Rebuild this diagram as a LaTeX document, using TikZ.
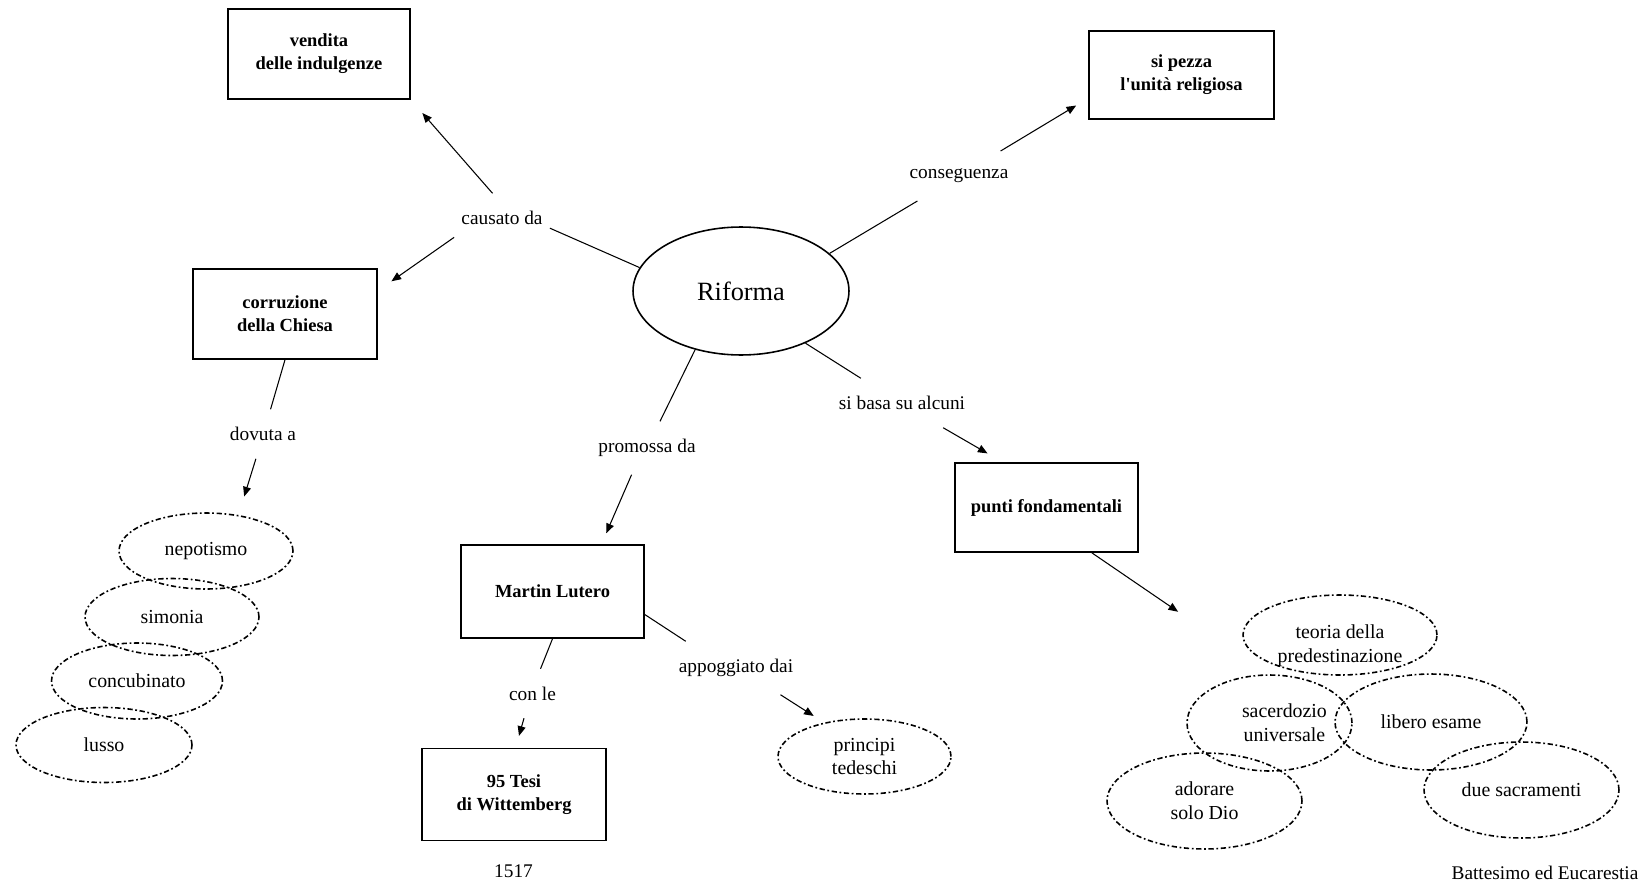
\documentclass[tikz,border=0pt]{standalone}
\usepackage{fontspec}
\setmainfont{Liberation Serif}
\usetikzlibrary{shapes.geometric,arrows.meta}

\begin{document}
\begin{tikzpicture}[x=0.02cm,y=-0.02cm,
  box/.style={draw,line width=0.9pt,align=center,inner sep=0pt,
    font=\fontsize{10.5}{13}\selectfont\bfseries},
  bubble/.style={ellipse,draw,line width=0.9pt,align=center,inner sep=0pt,
    dash pattern=on 3pt off 1.5pt on 1pt off 1.5pt,
    minimum width=3.9cm,minimum height=1.92cm,
    font=\fontsize{11.3}{13.5}\selectfont},
  word/.style={inner xsep=4pt,inner ysep=10pt,align=center,
    font=\fontsize{11}{13}\selectfont},
  link/.style={line width=0.6pt},
  arrow/.style={line width=0.6pt,-{Triangle[length=5.5pt,width=4.5pt]}}]

\useasboundingbox (0,0) rectangle (1646,882);

\node[ellipse,draw,line width=0.9pt,minimum width=4.32cm,minimum height=2.56cm,
  inner sep=0pt,font=\fontsize{15}{18}\selectfont] (riforma) at (741,291) {Riforma};

\node[box,minimum width=3.64cm,minimum height=1.8cm] (vendita) at (319,54) {vendita\\delle indulgenze};
\node[box,minimum width=3.68cm,minimum height=1.8cm] (corruzione) at (285,314) {corruzione\\della Chiesa};
\node[box,minimum width=3.7cm,minimum height=1.76cm] (sipezza) at (1181.5,75) {si pezza\\l\textquotesingle unità religiosa};
\node[box,minimum width=3.66cm,minimum height=1.86cm] (lutero) at (552.5,591.5) {Martin Lutero};
\node[box,minimum width=3.68cm,minimum height=1.84cm] (tesi) at (514,794.5) {95 Tesi\\di Wittemberg};
\node[box,minimum width=3.66cm,minimum height=1.78cm] (punti) at (1046.5,507.5) {punti fondamentali};

\node[bubble,minimum width=3.48cm,minimum height=1.52cm] (nepotismo) at (206,551) {nepotismo};
\node[bubble,minimum width=3.48cm,minimum height=1.54cm] (simonia) at (172,617) {simonia};
\node[bubble,minimum width=3.42cm,minimum height=1.52cm] (concubinato) at (137,681) {concubinato};
\node[bubble,minimum width=3.52cm,minimum height=1.5cm] (lusso) at (104,745) {lusso};
\node[bubble,minimum width=3.46cm,minimum height=1.5cm] (principi) at (864.5,756.5) {principi\\tedeschi};
\node[bubble,minimum width=3.88cm,minimum height=1.6cm,text height=31pt,text depth=0pt] (teoria) at (1340,635) {teoria della\\predestinazione};
\node[bubble,minimum width=3.3cm] (sacerdozio) at (1269.5,723) {\hspace*{17pt}sacerdozio\\\hspace*{17pt}universale};
\node[bubble,minimum width=3.84cm] (libero) at (1431,722) {libero esame};
\node[bubble] (adorare) at (1204.5,801) {adorare\\solo Dio};
\node[bubble] (due) at (1521.5,790) {due sacramenti};

\node[word] (causato) at (502,218) {causato da};
\node[word] (conseguenza) at (959,176) {conseguenza};
\node[word] (dovuta) at (263,434) {dovuta a};
\node[word] (promossa) at (647,448) {promossa da};
\node[word] (sibasa) at (902,403) {si basa su alcuni};
\node[word] (conle) at (532.5,693.5) {con le};
\node[word] (appoggiato) at (736,668) {appoggiato dai};
\node[word] (anno) at (513.5,871) {1517};
\node[word] (battesimo) at (1545,873) {Battesimo ed Eucarestia};

\draw[link] (riforma.167) -- (causato.-12);
\draw[arrow,shorten >=10pt] (causato.111) -- (vendita.south east);
\draw[arrow,shorten >=9.5pt] (causato.202) -- (corruzione.14);

\draw[link] (riforma.23) -- (conseguenza.211);
\draw[arrow,shorten >=8pt] (conseguenza.31) -- (sipezza.194);

\draw[link] (corruzione.south) -- (dovuta.73);
\draw[arrow,shorten >=11pt] (dovuta.-106) -- (nepotismo.48);

\draw[link] (riforma.232) -- (promossa.64);
\draw[arrow,shorten >=6.8pt] (promossa.-120) -- (lutero.44);

\draw[link] (lutero.south) -- (conle.72);
\draw[arrow,shorten >=7pt] (conle.-109) -- (tesi.88);

\draw[link] (lutero.-14) -- (appoggiato.152);
\draw[arrow,shorten >=7pt] (appoggiato.-31) -- (principi.140);

\draw[link] (riforma.-39) -- (sibasa.149);
\draw[arrow,shorten >=10pt] (sibasa.-31) -- (punti.134);
\draw[arrow,shorten >=63pt] (punti.-45) -- (sacerdozio.north);

\end{tikzpicture}
\end{document}
